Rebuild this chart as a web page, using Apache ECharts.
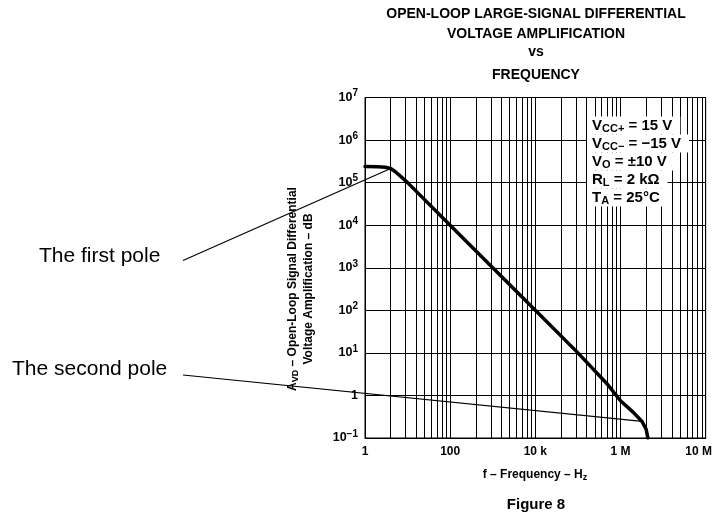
<!DOCTYPE html>
<html>
<head>
<meta charset="utf-8">
<script src="https://cdn.jsdelivr.net/npm/echarts@6/dist/echarts.min.js"></script>
<style>
html,body{margin:0;padding:0;background:#fff;}
#chart{width:715px;height:516px;}
</style>
</head>
<body>
<div id="chart"></div>
<script>
// ---- data ----
const xTickLabels = ['1', '100', '10 k', '1 M', '10 M'];
const freqHz  = [1, 2, 3, 4, 5, 7, 10, 100, 1000, 1e4, 1e5, 5e5, 1e6, 2e6, 3.2e6, 4e6, 4.4e6];
const gainAvd = [2.4e5, 2.35e5, 2.3e5, 2.15e5, 1.85e5, 1.38e5, 1e5, 1e4, 1e3, 100, 10, 1.8, 0.75, 0.4, 0.245, 0.16, 0.1];
const minorMultipliers = [2, 3, 4, 5, 6, 7, 8, 9];
const gridCycles = [0, 1, 2, 3];
const firstPole = [4, 2.15e5];
const secondPole = [3.2e6, 0.245];
const titleLines = ['OPEN-LOOP LARGE-SIGNAL DIFFERENTIAL', 'VOLTAGE AMPLIFICATION', 'vs', 'FREQUENCY'];
const conditions = [
  ['V', 'CC+', ' = 15 V'],
  ['V', 'CC\u2212', ' = \u221215 V'],
  ['V', 'O', ' = \u00b110 V'],
  ['R', 'L', ' = 2 k\u03a9'],
  ['T', 'A', ' = 25\u00b0C']
];

const FONT = '"Liberation Sans", Arial, Helvetica, sans-serif';
const chart = echarts.init(document.getElementById('chart'), null, {renderer: 'canvas'});

const seriesData = freqHz.map((f, i) => [f, gainAvd[i]]);

// minor vertical grid lines (2..9 within each 100x cycle of the x axis)
const minorLines = [];
gridCycles.forEach(c => {
  minorMultipliers.forEach(k => {
    minorLines.push({xAxis: Math.pow(100, c + Math.log10(k))});
  });
});

const grid = {left: 365, right: 8, top: 97.5, bottom: 78};

const option = {
  animation: false,
  backgroundColor: '#fff',
  grid: Object.assign({show: true, borderColor: '#000', borderWidth: 1, backgroundColor: 'transparent'}, grid),
  xAxis: {
    type: 'log', logBase: 100, min: 1, max: 1e8, splitNumber: 4,
    axisLine: {show: true, lineStyle: {color: '#000', width: 1}},
    axisTick: {show: false},
    splitLine: {show: true, lineStyle: {color: '#000', width: 1}},
    axisLabel: {
      color: '#000', fontFamily: FONT, fontWeight: 'bold', fontSize: 12, margin: 8,
      formatter: function (v) {
        const idx = Math.round(Math.log(v) / Math.log(100));
        const t = xTickLabels[idx];
        if (idx === xTickLabels.length - 1) return '{r|' + t + '}';
        return t;
      },
      rich: {r: {fontFamily: FONT, fontWeight: 'bold', fontSize: 12, color: '#000', padding: [0, 14, 0, 0]}}
    }
  },
  yAxis: {
    type: 'log', logBase: 10, min: 0.1, max: 1e7, splitNumber: 8,
    axisLine: {show: true, lineStyle: {color: '#000', width: 1}},
    axisTick: {show: false},
    splitLine: {show: true, lineStyle: {color: '#000', width: 1}},
    axisLabel: {
      color: '#000', margin: 7,
      formatter: function (v) {
        const e = Math.round(Math.log10(v));
        if (e === 0) return '{b|1}';
        return '{b|10}{s|' + (e < 0 ? '\u2212' + (-e) : e) + '}';
      },
      rich: {
        b: {fontFamily: FONT, fontWeight: 'bold', fontSize: 12.5, color: '#000'},
        s: {fontFamily: FONT, fontWeight: 'bold', fontSize: 10, color: '#000', padding: [0, 0, 8, 0]}
      }
    }
  },
  series: [
    {
      type: 'line', data: [], silent: true, z: 1,
      markLine: {
        silent: true, symbol: 'none', animation: false,
        label: {show: false},
        lineStyle: {color: '#000', width: 1, type: 'solid'},
        data: minorLines
      }
    },
    {
      type: 'line', data: seriesData, showSymbol: false, symbol: 'none', z: 5,
      lineStyle: {color: '#000', width: 3.5, join: 'round', cap: 'round'},
      itemStyle: {color: '#000'}
    }
  ]
};
chart.setOption(option);

function buildGraphics() {
  const g = [];
  // title
  const titleY = [14, 34, 52, 75];
  titleLines.forEach((t, i) => {
    g.push({type: 'text', x: 536, y: titleY[i], z: 100, style: {
      text: t, fill: '#000', font: 'bold 14px ' + FONT, textAlign: 'center', textVerticalAlign: 'middle'}});
  });
  // conditions box
  const condY = [125.5, 143.5, 161.5, 179.5, 197.5];
  conditions.forEach((c, i) => {
    g.push({type: 'text', x: 587, y: condY[i], z: 100, style: {
      text: '{m|' + c[0] + '}{s|' + c[1] + '}{m|' + c[2] + '}',
      textAlign: 'left', textVerticalAlign: 'middle',
      backgroundColor: '#fff', padding: [0, 8, 0, 5],
      rich: {
        m: {font: 'bold 15px ' + FONT, fill: '#000', lineHeight: 18},
        s: {font: 'bold 11px ' + FONT, fill: '#000', padding: [7, 0, 0, 0], lineHeight: 11}
      }
    }});
  });
  // y axis title
  g.push({type: 'text', x: 293, y: 289, rotation: Math.PI / 2, z: 100, style: {
    text: '{m|A}{s|VD}{m| \u2013 Open-Loop Signal Differential}',
    textAlign: 'center', textVerticalAlign: 'middle',
    rich: {
      m: {font: 'bold 12px ' + FONT, fill: '#000'},
      s: {font: 'bold 9px ' + FONT, fill: '#000', padding: [6, 0, 0, 0]}
    }
  }});
  g.push({type: 'text', x: 309, y: 289, rotation: Math.PI / 2, z: 100, style: {
    text: 'Voltage Amplification \u2013 dB', fill: '#000', font: 'bold 12px ' + FONT,
    textAlign: 'center', textVerticalAlign: 'middle'}});
  // x axis name
  g.push({type: 'text', x: 535, y: 475, z: 100, style: {
    text: '{m|f \u2013 Frequency \u2013 H}{s|z}',
    textAlign: 'center', textVerticalAlign: 'middle',
    rich: {
      m: {font: 'bold 12px ' + FONT, fill: '#000'},
      s: {font: 'bold 9px ' + FONT, fill: '#000', padding: [6, 0, 0, 0]}
    }
  }});
  // figure caption
  g.push({type: 'text', x: 536, y: 505, z: 100, style: {
    text: 'Figure 8', fill: '#000', font: 'bold 15px ' + FONT, textAlign: 'center', textVerticalAlign: 'middle'}});
  // annotations
  const p1 = chart.convertToPixel({xAxisIndex: 0, yAxisIndex: 0}, firstPole);
  const p2 = chart.convertToPixel({xAxisIndex: 0, yAxisIndex: 0}, secondPole);
  g.push({type: 'text', x: 39, y: 256, z: 100, style: {
    text: 'The first pole', fill: '#000', font: '21px ' + FONT, textAlign: 'left', textVerticalAlign: 'middle'}});
  g.push({type: 'text', x: 12, y: 369, z: 100, style: {
    text: 'The second pole', fill: '#000', font: '21px ' + FONT, textAlign: 'left', textVerticalAlign: 'middle'}});
  g.push({type: 'line', z: 101, shape: {x1: 183, y1: 260.5, x2: p1[0], y2: p1[1]}, style: {stroke: '#000', lineWidth: 1.2}});
  g.push({type: 'line', z: 101, shape: {x1: 183, y1: 375, x2: p2[0], y2: p2[1]}, style: {stroke: '#000', lineWidth: 1.2}});
  return g;
}
chart.setOption({graphic: buildGraphics()});
</script>
</body>
</html>
